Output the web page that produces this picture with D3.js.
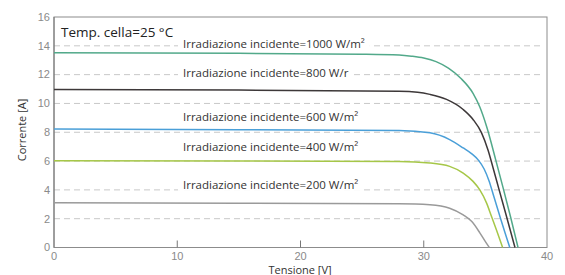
<!DOCTYPE html>
<html>
<head>
<meta charset="utf-8">
<script src="https://cdn.jsdelivr.net/npm/d3@7"></script>
<style>
  body { margin: 0; background: #fff; }
  svg { display: block; }
  .tick-label { font-family: "Liberation Sans", Arial, sans-serif; font-size: 11px; fill: #8a8a8a; }
  .ax-title { font-family: "Open Sans", sans-serif; font-size: 11px; fill: #333; }
  .curve-label { font-family: "Open Sans", sans-serif; font-size: 11.5px; fill: #333; }
</style>
</head>
<body>
<svg id="chart" width="565" height="275"></svg>
<script>
// I-V curves of a PV module at 25 °C

const xTicks = [0, 10, 20, 30, 40];
const yTicks = [0, 2, 4, 6, 8, 10, 12, 14, 16];
const gridLines = [2, 4, 6, 8, 10, 12, 14];

const curveColors = ['#52a98a', '#3d3839', '#4a9fd8', '#a6c748', '#9a9a9a'];
const labelText = [
  'Irradiazione incidente=1000 W/m²',
  'Irradiazione incidente=800 W/r',
  'Irradiazione incidente=600 W/m²',
  'Irradiazione incidente=400 W/m²',
  'Irradiazione incidente=200 W/m²'
];
const labelCurrent = [14.1, 12.1, 9.08, 7.0, 4.35];

const v1000 = [0, 15, 25, 28, 29, 30, 31, 32, 33, 34, 34.55, 35.1, 35.85, 36.45, 37.05, 37.65];
const i1000 = [13.52, 13.48, 13.42, 13.36, 13.28, 13.15, 12.9, 12.45, 11.75, 10.7, 9.75, 8.4, 6.05, 4.1, 2.1, 0];

const v800 = [0, 15, 28, 29.5, 30.5, 31.85, 33.2, 34.0, 34.69, 35.22, 35.65, 36.1, 36.7, 37.4];
const i800 = [10.97, 10.93, 10.85, 10.78, 10.63, 10.28, 9.58, 8.89, 7.96, 6.75, 5.45, 4.05, 2.2, 0];

const v600 = [0, 15, 28, 30.5, 32.1, 33.2, 33.9, 34.45, 34.9, 35.3, 35.7, 36.2, 36.6, 36.98];
const i600 = [8.22, 8.18, 8.12, 7.96, 7.49, 6.91, 6.5, 6.05, 5.45, 4.62, 3.5, 2.1, 1.0, 0];

const v400 = [0, 15, 28, 30.5, 32.1, 33.2, 34.0, 34.55, 35.1, 35.5, 35.9, 36.4];
const i400 = [6.03, 6.0, 5.97, 5.87, 5.63, 5.17, 4.59, 4.0, 3.08, 2.15, 1.22, 0];

const v200 = [0, 15, 28, 30.5, 32.1, 33.2, 33.9, 34.55, 34.95, 35.32];
const i200 = [3.1, 3.07, 3.03, 2.96, 2.73, 2.26, 1.8, 1.02, 0.48, 0];

const volts = [v1000, v800, v600, v400, v200];
const amps = [i1000, i800, i600, i400, i200];

const svg = d3.select('#chart');

const x = d3.scaleLinear().domain([0, 40]).range([54, 547]);
const y = d3.scaleLinear().domain([0, 16]).range([247.5, 17]);

// dashed grid
svg.selectAll('.grid')
  .data(gridLines)
  .enter().append('line')
  .attr('x1', x(0)).attr('x2', x(40) - 3)
  .attr('y1', d => y(d)).attr('y2', d => y(d))
  .attr('stroke', '#c8c8c8')
  .attr('stroke-dasharray', '6,4');

// frame
svg.append('rect')
  .attr('x', x(0)).attr('y', y(16))
  .attr('width', x(40) - x(0)).attr('height', y(0) - y(16))
  .attr('fill', 'none').attr('stroke', '#8c8c8c');
svg.append('line')
  .attr('x1', x(0)).attr('x2', x(0)).attr('y1', y(16)).attr('y2', y(0))
  .attr('stroke', '#777');

// inward x ticks
svg.selectAll('.xtick')
  .data(xTicks.slice(1, -1))
  .enter().append('line')
  .attr('x1', d => x(d)).attr('x2', d => x(d))
  .attr('y1', y(0)).attr('y2', y(0) - 7)
  .attr('stroke', '#777');

// curves
const line = d3.line().curve(d3.curveMonotoneX);
volts.forEach((vs, k) => {
  const pts = vs.map((v, j) => [x(v), y(amps[k][j])]);
  svg.append('path')
    .attr('d', line(pts))
    .attr('fill', 'none')
    .attr('stroke', curveColors[k])
    .attr('stroke-width', 1.5);
});

// curve labels with white background
labelText.forEach((t, k) => {
  const g = svg.append('g');
  const txt = g.append('text')
    .attr('class', 'curve-label')
    .attr('x', 183)
    .attr('y', y(labelCurrent[k]))
    .attr('dy', '0.35em')
    .text(t);
  const bb = txt.node().getBBox();
  g.insert('rect', 'text')
    .attr('x', bb.x - 5).attr('y', bb.y + 1)
    .attr('width', bb.width + 10).attr('height', bb.height - 2)
    .attr('fill', '#fff');
});

svg.append('text')
  .attr('x', 61).attr('y', 37)
  .attr('font-family', '"Open Sans", sans-serif')
  .attr('font-size', 13.5)
  .attr('fill', '#222')
  .text('Temp. cella=25 °C');

// tick labels
svg.selectAll('.xlab')
  .data(xTicks)
  .enter().append('text')
  .attr('class', 'tick-label')
  .attr('x', d => x(d)).attr('y', 260)
  .attr('text-anchor', 'middle')
  .text(d => d);

svg.selectAll('.ylab')
  .data(yTicks)
  .enter().append('text')
  .attr('class', 'tick-label')
  .attr('x', 50).attr('y', d => y(d))
  .attr('dy', '0.35em')
  .attr('text-anchor', 'end')
  .text(d => d);

// axis titles
svg.append('text')
  .attr('class', 'ax-title')
  .attr('x', 300).attr('y', 273.5)
  .attr('text-anchor', 'middle')
  .text('Tensione [V]');

svg.append('text')
  .attr('class', 'ax-title')
  .attr('transform', 'translate(26,130) rotate(-90)')
  .attr('text-anchor', 'middle')
  .text('Corrente [A]');
</script>
</body>
</html>
